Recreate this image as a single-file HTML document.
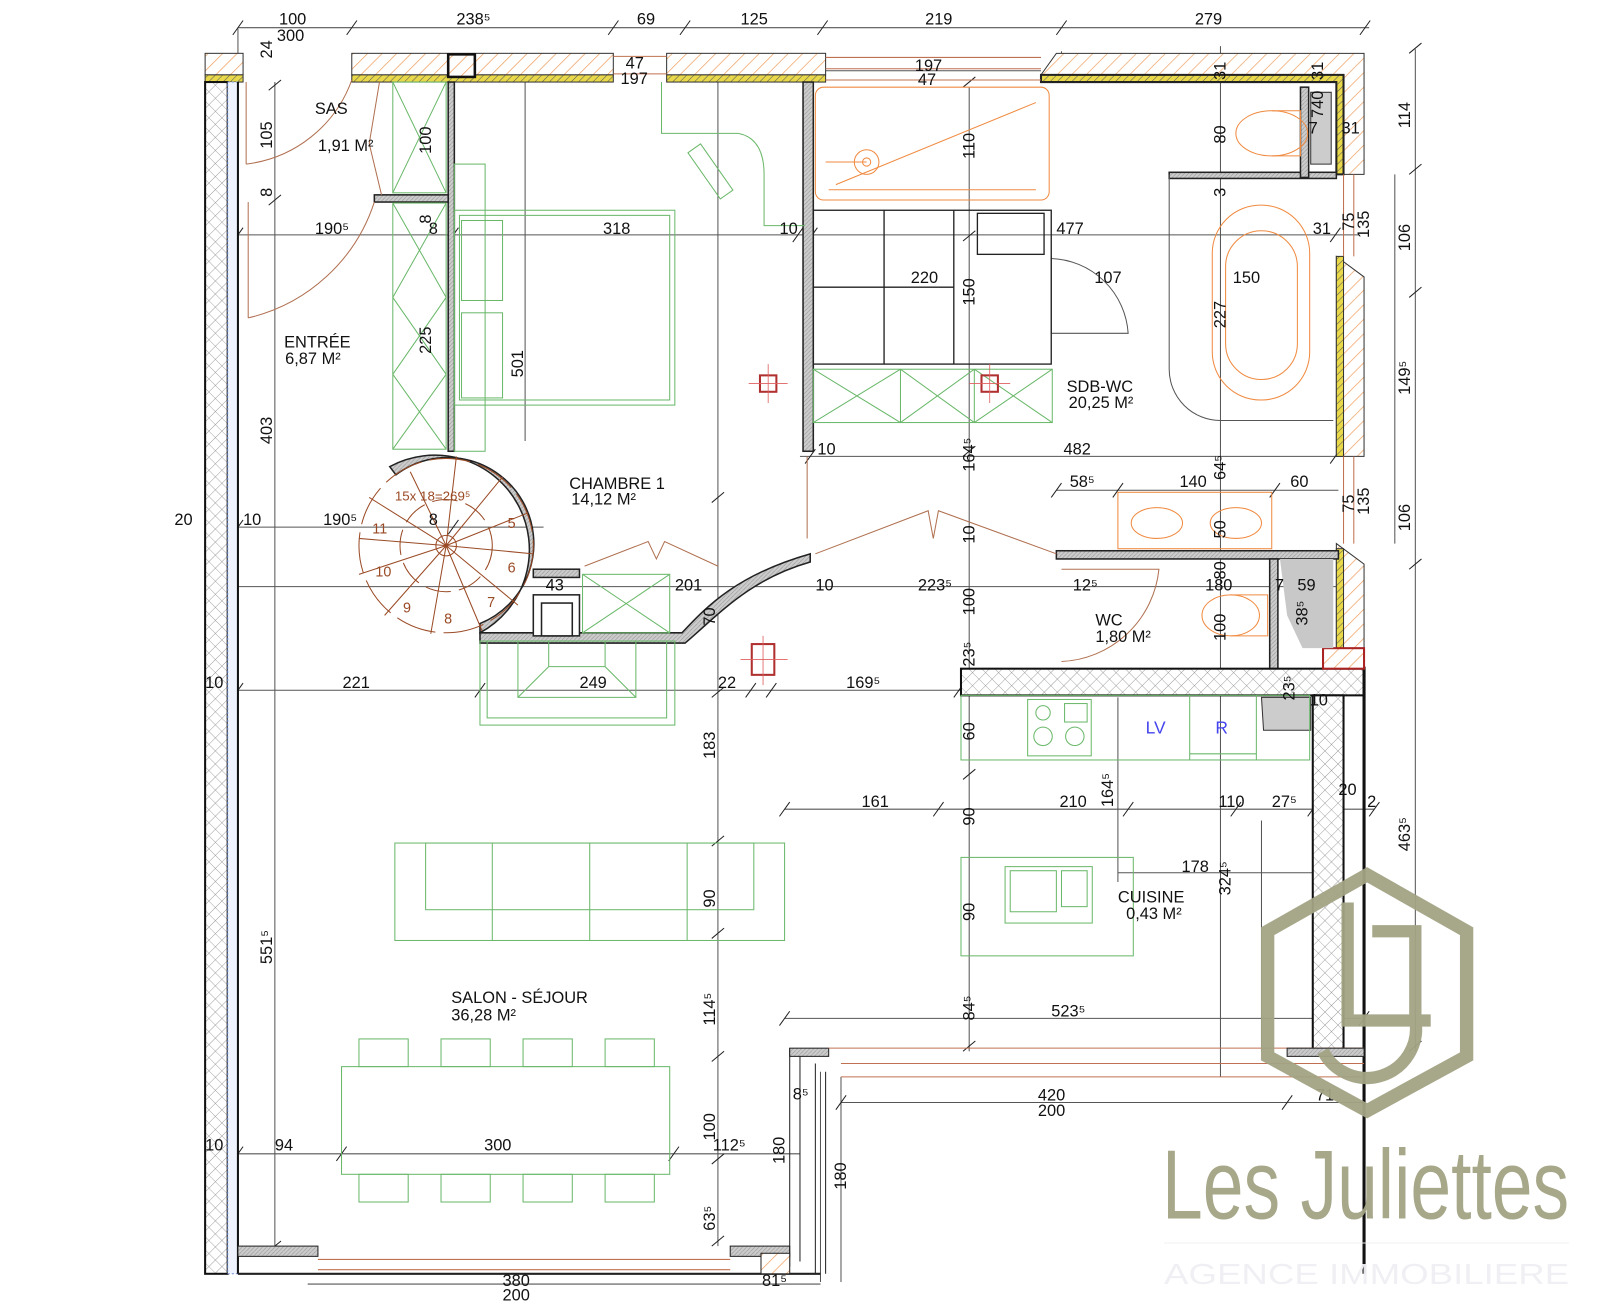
<!DOCTYPE html>
<html><head><meta charset="utf-8"><style>
html,body{margin:0;padding:0;background:#fff;}
svg{display:block}
text{font-family:"Liberation Sans",sans-serif;fill:#111;}
.d{font-size:16px;}
.r{font-size:16px;}
</style></head><body>
<svg width="1600" height="1312" viewBox="0 0 1600 1312" xmlns="http://www.w3.org/2000/svg">
<defs>
<pattern id="oh" width="10" height="10" patternUnits="userSpaceOnUse" patternTransform="rotate(45)"><rect width="10" height="10" fill="#fff"/><line x1="0" y1="0" x2="0" y2="10" stroke="#f0a060" stroke-width="1.4"/></pattern>
<pattern id="yh" width="5" height="5" patternUnits="userSpaceOnUse" patternTransform="rotate(45)"><rect width="5" height="5" fill="#e8d84a"/><line x1="0" y1="0" x2="0" y2="5" stroke="#555" stroke-width="1"/></pattern>
<pattern id="ch" width="9" height="9" patternUnits="userSpaceOnUse" patternTransform="rotate(45)"><rect width="9" height="9" fill="#fff"/><path d="M0 0V9M0 0H9" stroke="#888" stroke-width="0.8"/></pattern>
<pattern id="gh" width="4" height="4" patternUnits="userSpaceOnUse"><rect width="4" height="4" fill="#ccc"/><path d="M0 4L4 0" stroke="#999" stroke-width="0.6"/></pattern>
</defs>
<g transform="scale(1.0256)">
<!-- dimension lines (grey) -->
<g stroke="#555" stroke-width="1" fill="none">
<line x1="232" y1="27" x2="1335" y2="27"/>
<line x1="232" y1="229" x2="1325" y2="229"/>
<line x1="200" y1="514" x2="530" y2="514"/>
<line x1="780" y1="445" x2="1305" y2="445"/>
<line x1="1030" y1="478" x2="1305" y2="478"/>
<line x1="200" y1="572" x2="1305" y2="572"/>
<line x1="232" y1="673" x2="937" y2="673"/>
<line x1="765" y1="789" x2="1340" y2="789"/>
<line x1="1090" y1="851" x2="1280" y2="851"/>
<line x1="765" y1="993" x2="1330" y2="993"/>
<line x1="820" y1="1075" x2="1330" y2="1075"/>
<line x1="232" y1="1125" x2="780" y2="1125"/>
<line x1="300" y1="1252" x2="800" y2="1252"/>
<line x1="232" y1="28" x2="232" y2="200"/>
<line x1="268" y1="80" x2="268" y2="1215"/>
<line x1="1380" y1="48" x2="1380" y2="1025"/>
<line x1="1360" y1="170" x2="1360" y2="530"/>
<line x1="700" y1="80" x2="700" y2="1215"/>
<line x1="512" y1="80" x2="512" y2="430"/>
<line x1="945" y1="85" x2="945" y2="1025"/>
<line x1="1190" y1="45" x2="1190" y2="1050"/>
<line x1="1090" y1="680" x2="1090" y2="860"/>
<line x1="1230" y1="800" x2="1230" y2="1025"/>
<line x1="800" y1="1045" x2="800" y2="1250"/>
<line x1="820" y1="1050" x2="820" y2="1250"/>
<line x1="1035" y1="50" x2="1035" y2="80"/>
<line x1="1015" y1="69" x2="805" y2="69"/>
</g>
<!-- ticks -->
<g stroke="#222" stroke-width="1">
<path d="M227 34l10-14M338 34l10-14M593 34l10-14M663 34l10-14M797 34l10-14M1030 34l10-14M1326 34l10-14"/>
<path d="M227 236l10-14M437 236l10-14M773 236l10-14M787 236l10-14M1297 236l10-14"/>
<path d="M227 521l10-14M437 521l10-14M785 452l10-14M1297 452l10-14M1025 485l10-14M1085 485l10-14M1238 485l10-14"/>
<path d="M227 680l10-14M463 680l10-14M727 680l10-14M747 680l10-14M930 680l10-14"/>
<path d="M760 796l10-14M910 796l10-14M1095 796l10-14M1200 796l10-14M1275 796l10-14M1335 796l10-14"/>
<path d="M760 1000l10-14M1325 1000l10-14M815 1082l10-14M1250 1082l10-14M227 1132l10-14M328 1132l10-14M652 1132l10-14"/>
<path d="M262 88l12-10M262 200l12-10M262 1220l12-10M1374 52l12-10M1374 170l12-10M1374 290l12-10M1374 555l12-10M1374 1025l12-10"/>
<path d="M694 490l12-10M694 680l12-10M694 825l12-10M694 915l12-10M694 1035l12-10M694 1135l12-10M694 1215l12-10"/>
<path d="M939 85l12-10M939 235l12-10M939 445l12-10M939 760l12-10M939 1025l12-10"/>
</g>

<!-- top wall -->
<g stroke="#333" stroke-width="1">
<rect x="200" y="52" width="37" height="21" fill="url(#oh)"/>
<rect x="343" y="52" width="255" height="21" fill="url(#oh)"/>
<rect x="650" y="52" width="155" height="21" fill="url(#oh)"/>
<polygon points="1015,73 1030,52 1330,52 1330,170 1310,170 1310,80 1015,80" fill="url(#oh)"/>
<rect x="200" y="73" width="37" height="7" fill="url(#yh)"/>
<rect x="343" y="73" width="255" height="7" fill="url(#yh)"/>
<rect x="650" y="73" width="155" height="7" fill="url(#yh)"/>
<polygon points="1015,73 1310,73 1310,170 1303,170 1303,80 1015,80" fill="url(#yh)" stroke="#222" stroke-width="2"/>
<rect x="437" y="53" width="26" height="22" fill="url(#oh)" stroke="#111" stroke-width="2.5"/>
<polygon points="1303,250 1330,270 1330,445 1303,445" fill="url(#oh)"/>
<rect x="1303" y="250" width="7" height="195" fill="url(#yh)"/>
<polygon points="1303,530 1330,550 1330,650 1303,650" fill="url(#oh)"/>
<rect x="1303" y="535" width="7" height="100" fill="url(#yh)"/>
</g>
<g stroke="#c07050" stroke-width="1" fill="none">
<path d="M598 55H650M598 72H650M805 56H1015M805 67H1015M805 78H1015"/>
<path d="M1310 170V250M1320 170V250M1310 445V530M1320 445V530"/>
</g>

<!-- left wall -->
<rect x="200" y="80" width="22" height="1162" fill="url(#ch)" stroke="#111" stroke-width="2"/>
<rect x="222" y="80" width="10" height="1162" fill="#eef3ff" stroke="#6a8ad0" stroke-width="1" stroke-dasharray="2,2"/>
<line x1="232" y1="80" x2="232" y2="1242" stroke="#111" stroke-width="2"/>

<!-- interior walls -->
<g fill="url(#gh)" stroke="#222" stroke-width="1.5">
<rect x="437" y="80" width="6" height="360"/>
<rect x="365" y="190" width="72" height="7"/>
<rect x="783" y="80" width="10" height="360"/>
<rect x="1030" y="537" width="275" height="8"/>
<rect x="1238" y="545" width="8" height="107"/>
<rect x="1140" y="168" width="163" height="6"/>
<rect x="1268" y="85" width="8" height="88"/>
<path d="M468 617H665C690 590 720 560 790 540V548C730 565 700 600 668 627H468Z"/>
<path d="M468 617 A92 92 0 1 0 380 455 L386 463 A84 84 0 1 1 468 608Z"/>
<rect x="520" y="555" width="45" height="8"/>
<rect x="520" y="580" width="45" height="40" fill="#fff"/>
<rect x="528" y="588" width="30" height="32" fill="#fff"/>
</g>
<!-- kitchen walls -->
<g stroke="#111" stroke-width="2">
<rect x="937" y="652" width="393" height="26" fill="url(#ch)"/>
<rect x="1280" y="678" width="30" height="347" fill="url(#ch)"/>
<line x1="1330" y1="650" x2="1330" y2="1242" stroke-width="3"/>
<rect x="1290" y="632" width="40" height="20" fill="url(#oh)" stroke="#a22"/>
</g>
<polygon points="1248,545 1300,545 1300,632 1270,632 1255,600" fill="#c8c8c8"/>
<polygon points="1230,680 1278,680 1278,712 1232,712" fill="#ccc" stroke="#333"/>
<polygon points="1278,90 1298,90 1298,160 1278,160" fill="#ccc" stroke="#333"/>

<!-- bottom -->
<g stroke="#222" stroke-width="1" fill="none">
<rect x="232" y="1215" width="78" height="10" fill="url(#gh)"/>
<rect x="712" y="1215" width="58" height="10" fill="url(#gh)"/>
<line x1="232" y1="1242" x2="800" y2="1242" stroke-width="2"/>
<path d="M310 1228H712M310 1238H712" stroke="#c07050"/>
<path d="M770 1022V1235M780 1030V1230M795 1037V1242M805 1045V1242" />
<rect x="770" y="1022" width="38" height="8" fill="url(#gh)"/>
<path d="M808 1022H1330M820 1037H1330M820 1050H1330" stroke="#c07050"/>
<rect x="1255" y="1022" width="75" height="8" fill="url(#gh)"/>
<rect x="742" y="1222" width="28" height="20" fill="url(#oh)"/>
</g>

<!-- doors (brown) -->
<g stroke="#b07050" stroke-width="1" fill="none">
<path d="M240 160A125 125 0 0 0 343 78"/>
<line x1="240" y1="80" x2="240" y2="160"/>
<path d="M242 310A170 170 0 0 0 365 197"/>
<line x1="242" y1="197" x2="242" y2="310"/>
<path d="M370 80L360 140L372 190"/>
<path d="M570 552L632 528L640 545L648 528L700 552"/>
<path d="M795 540L905 498L910 525L915 498L1030 540"/>
<path d="M1035 555H1130A100 100 0 0 1 1035 645"/>
<line x1="787" y1="445" x2="787" y2="525"/>
</g>
<g stroke="#555" stroke-width="1" fill="none">
<path d="M1025 252A78 78 0 0 1 1100 325H1025"/>
<line x1="1025" y1="250" x2="1025" y2="325"/>
<path d="M1140 170V360A50 50 0 0 0 1190 410H1300"/>
</g>

<!-- spiral stair -->
<g stroke="#9a4a25" stroke-width="1" fill="none">
<circle cx="435" cy="532" r="10"/>
<circle cx="435" cy="532" r="45" stroke-dasharray="25,8"/>
<circle cx="435" cy="532" r="85" stroke-dasharray="40,8"/>
<path d="M435 532L400 460M435 532L445 445M435 532L490 465M435 532L515 500M435 532L520 540M435 532L505 590M435 532L470 615M435 532L420 618M435 532L375 600M435 532L350 560M435 532L350 525M435 532L360 485"/>
</g>
<g>
<text x="495" y="515" style="fill:#9a4a25;font-size:14px">5</text>
<text x="495" y="558" style="fill:#9a4a25;font-size:14px">6</text>
<text x="475" y="592" style="fill:#9a4a25;font-size:14px">7</text>
<text x="433" y="608" style="fill:#9a4a25;font-size:14px">8</text>
<text x="393" y="597" style="fill:#9a4a25;font-size:14px">9</text>
<text x="366" y="562" style="fill:#9a4a25;font-size:14px">10</text>
<text x="363" y="520" style="fill:#9a4a25;font-size:14px">11</text>
<text x="385" y="488" style="fill:#9a4a25;font-size:13px">15x 18=269⁵</text>
</g>

<!-- furniture green -->
<g stroke="#6ab86a" stroke-width="1" fill="none">
<rect x="383" y="80" width="52" height="108"/><path d="M383 80L435 188M435 80L383 188"/>
<rect x="383" y="198" width="52" height="240"/><path d="M383 198L435 290M435 198L383 290M383 290L435 365M435 290L383 365M383 365L435 438M435 365L383 438"/>
<rect x="443" y="160" width="30" height="280"/>
<rect x="443" y="205" width="215" height="190"/>
<rect x="448" y="210" width="205" height="180"/>
<rect x="450" y="215" width="40" height="78"/><rect x="450" y="305" width="40" height="83"/>
<path d="M645 80V130H720Q745 135 745 170V220H785"/>
<rect x="685" y="140" width="15" height="55" transform="rotate(-35 692 167)"/>
<rect x="793" y="360" width="233" height="52"/><path d="M793 360L878 412M878 360L793 412M878 360L950 412M950 360L878 412M950 360L1026 412M1026 360L950 412M878 360V412M950 360V412"/>
<rect x="568" y="560" width="85" height="57"/><path d="M568 560L653 617M653 560L568 617"/>
<rect x="468" y="625" width="190" height="82"/><rect x="475" y="625" width="175" height="75"/>
<path d="M505 625V680H620V625M535 625V650H590V625M505 680L535 650M620 680L590 650"/>
<rect x="385" y="822" width="380" height="95"/><rect x="415" y="822" width="320" height="65"/>
<path d="M480 822V917M575 822V917M670 822V917"/>
<rect x="333" y="1040" width="320" height="105"/>
<rect x="350" y="1013" width="48" height="27"/><rect x="430" y="1013" width="48" height="27"/><rect x="510" y="1013" width="48" height="27"/><rect x="590" y="1013" width="48" height="27"/>
<rect x="350" y="1145" width="48" height="27"/><rect x="430" y="1145" width="48" height="27"/><rect x="510" y="1145" width="48" height="27"/><rect x="590" y="1145" width="48" height="27"/>
<rect x="937" y="678" width="340" height="63"/>
<rect x="1002" y="682" width="62" height="55"/><circle cx="1017" cy="695" r="7"/><circle cx="1017" cy="718" r="9"/><circle cx="1048" cy="718" r="9"/><rect x="1038" y="686" width="22" height="18"/>
<path d="M1160 678V741M1225 678V741M1160 735H1225"/>
<rect x="937" y="836" width="168" height="96"/>
<rect x="980" y="845" width="85" height="55"/><rect x="985" y="849" width="45" height="40"/><rect x="1035" y="849" width="25" height="35"/>
</g>
<!-- black cabinets -->
<g stroke="#222" stroke-width="1.3" fill="none">
<rect x="793" y="205" width="232" height="150"/>
<path d="M862 205V355M930 205V355M793 280H930"/>
<rect x="953" y="208" width="65" height="40"/>
</g>
<!-- orange sanitary -->
<g stroke="#f08a40" stroke-width="1" fill="none">
<rect x="795" y="85" width="228" height="110" rx="8"/>
<circle cx="845" cy="158" r="12"/><circle cx="845" cy="158" r="4"/>
<path d="M805 158H845M815 180L1010 100M808 185H1010"/>
<ellipse cx="1240" cy="130" rx="35" ry="22"/><path d="M1240 108H1268V152H1240"/>
<rect x="1182" y="200" width="95" height="190" rx="47"/>
<rect x="1195" y="225" width="70" height="145" rx="35"/>
<rect x="1090" y="480" width="150" height="55"/>
<ellipse cx="1128" cy="510" rx="25" ry="15"/><ellipse cx="1205" cy="510" rx="25" ry="15"/>
<ellipse cx="1200" cy="600" rx="28" ry="20"/><path d="M1200 580H1236V620H1200"/>
</g>
<!-- columns red -->
<g stroke="#b03030" stroke-width="2" fill="none">
<rect x="741" y="366" width="16" height="16"/><rect x="957" y="366" width="16" height="16"/>
<rect x="733" y="628" width="22" height="30"/>
<path d="M730 374H768M749 355V393M945 374H985M965 355V393M722 643H768M744 620V668" stroke="#e06060" stroke-width="0.8"/>
</g>

<!-- room labels -->
<g class="r">
<text x="307" y="111">SAS</text><text x="310" y="147">1,91 M²</text>
<text x="277" y="339">ENTRÉE</text><text x="278" y="355">6,87 M²</text>
<text x="555" y="477">CHAMBRE 1</text><text x="557" y="492">14,12 M²</text>
<text x="1040" y="382">SDB-WC</text><text x="1042" y="398">20,25 M²</text>
<text x="1068" y="610">WC</text><text x="1068" y="626">1,80 M²</text>
<text x="1090" y="880">CUISINE</text><text x="1098" y="896">0,43 M²</text>
<text x="440" y="978">SALON - SÉJOUR</text><text x="440" y="995">36,28 M²</text>
<text x="1117" y="715" style="fill:#4444ee;font-size:17px">LV</text>
<text x="1185" y="715" style="fill:#4444ee;font-size:17px">R</text>
</g>
<!-- dimension text -->
<g class="d">
<text x="272" y="24">100</text><text x="270" y="40">300</text><text x="445" y="24">238⁵</text><text x="621" y="24">69</text><text x="722" y="24">125</text><text x="902" y="24">219</text><text x="1165" y="24">279</text>
<text x="610" y="67">47</text><text x="605" y="82">197</text><text x="892" y="69">197</text><text x="895" y="83">47</text>
<text x="307" y="228">190⁵</text><text x="418" y="228">8</text><text x="588" y="228">318</text><text x="760" y="228">10</text><text x="1030" y="228">477</text><text x="1280" y="228">31</text>
<text x="888" y="276">220</text><text x="1067" y="276">107</text><text x="1202" y="276">150</text>
<text x="797" y="443">10</text><text x="1037" y="443">482</text>
<text x="1043" y="475">58⁵</text><text x="1150" y="475">140</text><text x="1258" y="475">60</text>
<text x="170" y="512">20</text><text x="237" y="512">10</text><text x="315" y="512">190⁵</text><text x="418" y="512">8</text>
<text x="532" y="576">43</text><text x="658" y="576">201</text><text x="795" y="576">10</text><text x="895" y="576">223⁵</text><text x="1046" y="576">12⁵</text><text x="1175" y="576">180</text><text x="1243" y="576">7</text><text x="1265" y="576">59</text>
<text x="200" y="671">10</text><text x="334" y="671">221</text><text x="565" y="671">249</text><text x="700" y="671">22</text><text x="825" y="671">169⁵</text>
<text x="840" y="787">161</text><text x="1033" y="787">210</text><text x="1188" y="787">110</text><text x="1240" y="787">27⁵</text><text x="1305" y="775">20</text><text x="1333" y="787">2</text>
<text x="1152" y="850">178</text>
<text x="1025" y="991">523⁵</text>
<text x="1012" y="1073">420</text><text x="1012" y="1088">200</text><text x="1283" y="1073">71</text><text x="773" y="1072">8⁵</text>
<text x="200" y="1122">10</text><text x="268" y="1122">94</text><text x="472" y="1122">300</text><text x="695" y="1122">112⁵</text>
<text x="490" y="1254">380</text><text x="490" y="1268">200</text><text x="743" y="1254">81⁵</text>
</g>
<!-- vertical dimension text -->
<g class="d">
<text transform="translate(265,145) rotate(-90)">105</text>
<text transform="translate(265,192) rotate(-90)">8</text>
<text transform="translate(265,57) rotate(-90)">24</text>
<text transform="translate(265,433) rotate(-90)">403</text>
<text transform="translate(265,940) rotate(-90)">551⁵</text>
<text transform="translate(420,150) rotate(-90)">100</text>
<text transform="translate(420,218) rotate(-90)">8</text>
<text transform="translate(420,345) rotate(-90)">225</text>
<text transform="translate(510,368) rotate(-90)">501</text>
<text transform="translate(950,155) rotate(-90)">110</text>
<text transform="translate(950,298) rotate(-90)">150</text>
<text transform="translate(950,460) rotate(-90)">164⁵</text>
<text transform="translate(950,530) rotate(-90)">10</text>
<text transform="translate(950,600) rotate(-90)">100</text>
<text transform="translate(950,650) rotate(-90)">23⁵</text>
<text transform="translate(950,722) rotate(-90)">60</text>
<text transform="translate(950,805) rotate(-90)">90</text>
<text transform="translate(950,898) rotate(-90)">90</text>
<text transform="translate(950,995) rotate(-90)">84⁵</text>
<text transform="translate(1085,787) rotate(-90)">164⁵</text>
<text transform="translate(1195,140) rotate(-90)">80</text>
<text transform="translate(1195,192) rotate(-90)">3</text>
<text transform="translate(1195,320) rotate(-90)">227</text>
<text transform="translate(1195,468) rotate(-90)">64⁵</text>
<text transform="translate(1195,525) rotate(-90)">50</text>
<text transform="translate(1195,565) rotate(-90)">80</text>
<text transform="translate(1195,625) rotate(-90)">100</text>
<text transform="translate(1290,115) rotate(-90)">740</text>
<text transform="translate(1195,78) rotate(-90)">31</text>
<text transform="translate(1290,78) rotate(-90)">31</text>
<text transform="translate(1320,225) rotate(-90)">75</text>
<text transform="translate(1335,232) rotate(-90)">135</text>
<text transform="translate(1320,500) rotate(-90)">75</text>
<text transform="translate(1335,502) rotate(-90)">135</text>
<text transform="translate(1275,610) rotate(-90)">38⁵</text>
<text transform="translate(1262,683) rotate(-90)">23⁵</text>
<text transform="translate(1200,873) rotate(-90)">324⁵</text>
<text transform="translate(1375,125) rotate(-90)">114</text>
<text transform="translate(1375,245) rotate(-90)">106</text>
<text transform="translate(1375,385) rotate(-90)">149⁵</text>
<text transform="translate(1375,518) rotate(-90)">106</text>
<text transform="translate(1375,830) rotate(-90)">463⁵</text>
<text transform="translate(697,610) rotate(-90)">70</text>
<text transform="translate(697,740) rotate(-90)">183</text>
<text transform="translate(697,885) rotate(-90)">90</text>
<text transform="translate(697,1000) rotate(-90)">114⁵</text>
<text transform="translate(697,1112) rotate(-90)">100</text>
<text transform="translate(697,1200) rotate(-90)">63⁵</text>
<text transform="translate(765,1135) rotate(-90)">180</text>
<text transform="translate(825,1160) rotate(-90)">180</text>
</g>
<text x="1276" y="130" class="d">7</text><text x="1308" y="130" class="d">31</text>
<text x="1277" y="688" class="d">10</text>

<!-- logo -->
<g opacity="0.95">
<polygon points="1333,853 1430,908 1430,1030 1333,1083 1236,1030 1236,908" fill="none" stroke="#a3a384" stroke-width="13"/>
<path d="M1314 880V995H1395M1338 908H1380V995A48 48 0 0 1 1290 1025" fill="none" stroke="#a3a384" stroke-width="12"/>
<text x="1133" y="1188" style="font-size:96px;fill:#a3a384;font-family:'Liberation Sans',sans-serif" textLength="397" lengthAdjust="spacingAndGlyphs">Les Juliettes</text>
<line x1="1135" y1="1212" x2="1530" y2="1212" stroke="#eef0f5" stroke-width="1"/>
<text x="1135" y="1252" style="font-size:28px;fill:#f0f0f4" textLength="395" lengthAdjust="spacingAndGlyphs">AGENCE IMMOBILIERE</text>
</g>
</g>
</svg>
</body></html>
